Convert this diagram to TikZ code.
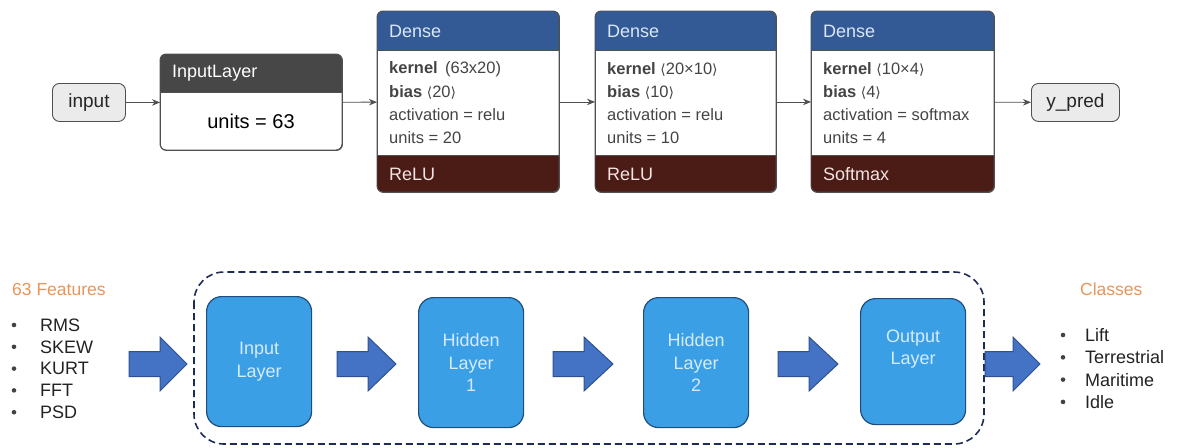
\documentclass[tikz,border=0pt]{standalone}
\usepackage{fontspec}
\setmainfont{Liberation Sans}
\newfontfamily\symfont{DejaVu Sans}
\usetikzlibrary{arrows.meta}

\definecolor{hdrblue}{HTML}{335A94}
\definecolor{hdrgray}{HTML}{474747}
\definecolor{actred}{HTML}{4B1B16}
\definecolor{hdrtext}{HTML}{DCE7F7}
\definecolor{acttext}{HTML}{F3E4E2}
\definecolor{bodytext}{HTML}{444444}
\definecolor{tagfill}{HTML}{EBEBEB}
\definecolor{edge}{HTML}{505050}
\definecolor{layerfill}{HTML}{3B9FE6}
\definecolor{layeredge}{HTML}{1F4E7E}
\definecolor{layertext}{HTML}{D4ECFF}
\definecolor{flowfill}{HTML}{4472C4}
\definecolor{flowedge}{HTML}{2F528F}
\definecolor{groupedge}{HTML}{1E2B55}
\definecolor{heading}{HTML}{E8955A}
\definecolor{listtext}{HTML}{222222}

% angle brackets around a shape
\newcommand\shp[1]{{\symfont\fontsize{14}{16}\selectfont ⟨}#1{\symfont\fontsize{14}{16}\selectfont ⟩}}

% block arrow: #1 shaft start, #2 head start, #3 tip, #4 centre line
\newcommand\flowarrow[4]{%
  \draw[flowstyle] (#1,#4-12.5) -- (#2,#4-12.5) -- (#2,#4-27) -- (#3,#4)
    -- (#2,#4+27) -- (#2,#4+12.5) -- (#1,#4+12.5) -- cycle;}

% Keras layer card: #1 name, #2 left, #3 right, #4 kernel, #5 bias, #6 activation, #7 units, #8 footer
\newcommand\densecard[8]{%
  \node[cardframe, minimum width={#3-#2}, minimum height=181, anchor=north west] (#1) at (#2,11) {};
  \begin{scope}
    \clip[rounded corners=6] (#2,11) rectangle (#3,192);
    \fill[hdrblue] (#2,11) rectangle (#3,50);
    \fill[actred] (#2,155) rectangle (#3,192);
  \end{scope}
  \draw[edge, line width=0.9pt] (#2,50) -- (#3,50) (#2,155) -- (#3,155);
  \draw[edge, line width=0.9pt, rounded corners=6] (#2,11) rectangle (#3,192);
  \node[cardtitle, text=hdrtext] (#1-title) at (#2+12,31) {Dense};
  \node[cardline] (#1-k) at (#2+12,69) {\textbf{kernel}\ #4};
  \node[cardline] (#1-b) at (#2+12,92) {\textbf{bias}\ #5};
  \node[cardline] (#1-a) at (#2+12,115) {activation = #6};
  \node[cardline] (#1-u) at (#2+12,138) {units = #7};
  \node[cardtitle, text=acttext] (#1-act) at (#2+12,174) {#8};
}

\begin{document}
\begin{tikzpicture}[x=1pt, y=-1pt,
  cardframe/.style={draw=edge, line width=0.9pt, rounded corners=6, inner sep=0},
  cardtitle/.style={anchor=west, inner sep=0, font=\fontsize{18}{20}\selectfont},
  cardline/.style={anchor=west, inner sep=0, text=bodytext, font=\fontsize{16.5}{18}\selectfont},
  tag/.style={draw=edge, fill=tagfill, line width=0.9pt, rounded corners=7, inner sep=0,
    font=\fontsize{19}{21}\selectfont, text=black!85},
  conn/.style={draw=edge, line width=0.9pt, -{Stealth[length=8pt,width=6.5pt]}},
  layerbox/.style={draw=layeredge, fill=layerfill, line width=1.2pt, rounded corners=15,
    minimum width=105, minimum height=130, inner sep=0, align=center, text=layertext,
    font=\fontsize{18}{22.5}\selectfont},
  flowstyle/.style={fill=flowfill, draw=flowedge, line width=1pt, line join=miter},
  group/.style={draw=groupedge, line width=1.6pt, dash pattern=on 7pt off 4pt, rounded corners=30},
  listhead/.style={anchor=west, inner sep=0, text=heading, font=\fontsize{17.5}{20}\selectfont},
  listitem/.style={anchor=west, inner sep=0, text=listtext, font=\fontsize{18}{20}\selectfont},
  dot/.style={circle, fill=listtext!85, inner sep=0, minimum size=4.6pt}]

\useasboundingbox (0,0) rectangle (1180,447);

% ---------------- model graph ----------------
\node[tag, minimum width=73, minimum height=38, anchor=north west] (inp) at (52,83) {input};

\node[cardframe, minimum width=182, minimum height=96, anchor=north west] (il) at (160,54) {};
\begin{scope}
  \clip[rounded corners=6] (160,54) rectangle (342,150);
  \fill[hdrgray] (160,54) rectangle (342,92);
\end{scope}
\draw[edge, line width=0.9pt] (160,92) -- (342,92);
\draw[edge, line width=0.9pt, rounded corners=6] (160,54) rectangle (342,150);
\node[cardtitle, text=white] (il-title) at (172,73) {InputLayer};
\node[inner sep=0, font=\fontsize{20}{22}\selectfont] (il-u) at (251,121) {units = 63};

\densecard{d1}{377}{559}{\,(63x20)}{\shp{20}}{relu}{20}{ReLU}
\densecard{d2}{595}{776}{\shp{20×10}}{\shp{10}}{relu}{10}{ReLU}
\densecard{d3}{811}{994}{\shp{10×4}}{\shp{4}}{softmax}{4}{Softmax}

\node[tag, minimum width=88, minimum height=38, anchor=north west] (out) at (1031,83) {y\_pred};

\draw[conn] (inp) -- (il);
\draw[conn] (il) -- (d1);
\draw[conn] (d1) -- (d2);
\draw[conn] (d2) -- (d3);
\draw[conn] (d3) -- (out);

% ---------------- block overview ----------------
\node[listhead] (feat) at (12,289) {63 Features};
\foreach \t [count=\i from 0] in {RMS,SKEW,KURT,FFT,PSD} {
  \node[dot] (fd\i) at (14,325+21.8*\i) {};
  \node[listitem] (f\i) at (40,325+21.8*\i) {\t};
}

\draw[group] (194,272) rectangle (984,444);

\node[layerbox, anchor=north west] (l0) at (206,296) {Input\\Layer};
\node[layerbox, anchor=north west] (l1) at (418,297) {Hidden\\Layer\\1};
\node[layerbox, anchor=north west] (l2) at (643,297) {Hidden\\Layer\\2};
\node[layerbox, anchor=north west, minimum height=126] (l3) at (860,298) {Output\\Layer\\[6pt]};

\flowarrow{129}{160}{187}{364}
\flowarrow{337}{368}{396}{364}
\flowarrow{553}{584}{613}{364}
\flowarrow{778}{809}{838}{364}
\flowarrow{985}{1013}{1040}{364}

\node[listhead] (cls) at (1080,289) {Classes};
\foreach \t [count=\i from 0] in {Lift,Terrestrial,Maritime,Idle} {
  \node[dot] (cd\i) at (1063,335+22.3*\i) {};
  \node[listitem] (c\i) at (1085,335+22.3*\i) {\t};
}
\end{tikzpicture}
\end{document}
